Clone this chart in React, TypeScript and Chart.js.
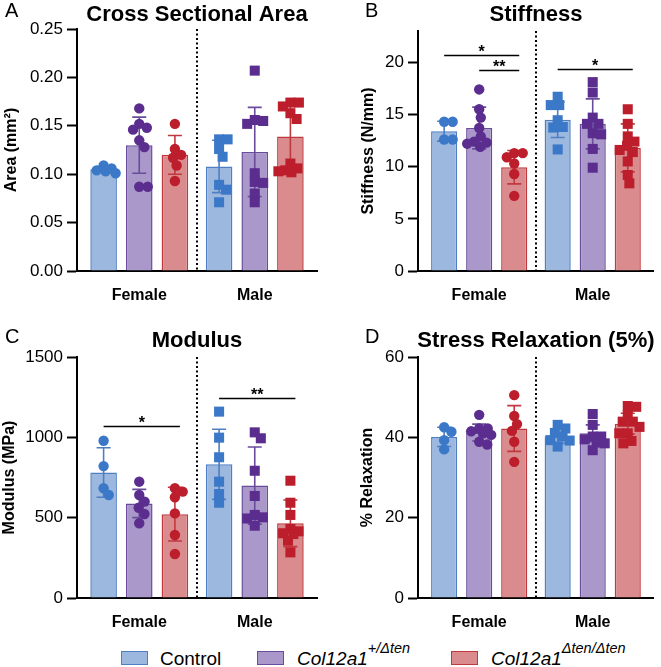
import React, { useEffect, useRef } from 'react';
import { Chart, registerables } from 'chart.js';

Chart.register(...registerables);

const FONT = '"Liberation Sans", Arial, Helvetica, sans-serif';

const SEXES = ['Female', 'Male'];
const GENOTYPES = ['Control', 'Col12a1+/Δten', 'Col12a1Δten/Δten'];

const FILL = ['#9db8de', '#a998c9', '#da8b8d'];
const EDGE = ['#4f7ec3', '#6a4c9c', '#c0393e'];
const DOT = ['#3b78c8', '#5a2d8e', '#bd1e2c'];

// ---------- A: Cross Sectional Area (mm^2) ----------  [genotype][sex]
const areaMean = [[0.105, 0.108], [0.130, 0.123], [0.120, 0.139]];
const areaSD = [[0.003, 0.027], [0.029, 0.046], [0.020, 0.034]];
const areaCtrlF = [0.101, 0.109, 0.103, 0.104, 0.106];
const areaCtrlM = [0.136, 0.136, 0.126, 0.118, 0.089, 0.084, 0.071];
const areaHetF = [0.168, 0.152, 0.148, 0.146, 0.135, 0.128, 0.087, 0.087];
const areaHetM = [0.207, 0.152, 0.155, 0.156, 0.101, 0.092, 0.091, 0.080, 0.071];
const areaKoF = [0.152, 0.126, 0.120, 0.117, 0.109, 0.093];
const areaKoM = [0.174, 0.174, 0.170, 0.163, 0.157, 0.111, 0.103, 0.104, 0.102, 0.106];

// ---------- B: Stiffness (N/mm) ----------
const stiffMean = [[13.4, 14.5], [13.7, 14.1], [9.95, 11.8]];
const stiffSD = [[0.95, 1.7], [2.0, 2.4], [1.6, 2.3]];
const stiffCtrlF = [14.3, 14.3, 12.6, 12.6];
const stiffCtrlM = [16.7, 15.9, 15.9, 14.45, 13.75, 13.8, 11.65];
const stiffHetF = [17.4, 15.5, 14.7, 13.7, 12.9, 12.4, 12.3, 12.2, 11.9];
const stiffHetM = [18.1, 17.1, 14.7, 14.1, 14.1, 13.2, 13.1, 11.7, 9.9];
const stiffKoF = [11.3, 11.3, 10.9, 10.3, 9.3, 7.2];
const stiffKoM = [15.5, 14.1, 12.9, 12.4, 12.0, 11.6, 11.4, 10.5, 9.2, 8.4];

// ---------- C: Modulus (MPa) ----------
const modMean = [[781, 832], [588, 700], [522, 465]];
const modSD = [[154, 218], [88, 240], [167, 145]];
const modCtrlF = [979, 821, 683, 641];
const modCtrlM = [1160, 998, 876, 724, 647, 593];
const modHetF = [724, 641, 600, 562, 523, 465];
const modHetM = [1031, 994, 792, 635, 517, 502, 495, 450];
const modKoF = [662, 683, 627, 527, 392, 274];
const modKoM = [730, 593, 517, 430, 415, 403, 398, 357, 284];

// ---------- D: Stress Relaxation (%) ----------
const relaxMean = [[40.1, 40.3], [41.2, 41.0], [42.2, 43.4]];
const relaxSD = [[2.4, 1.8], [2.1, 2.1], [5.7, 2.6]];
const relaxCtrlF = [41.4, 42.5, 39.3, 37.0];
const relaxCtrlM = [43.1, 42.2, 41.1, 40.2, 39.3, 39.2, 37.7];
const relaxHetF = [45.6, 42.2, 42.2, 41.5, 41.0, 40.6, 38.9, 38.2];
const relaxHetM = [45.8, 43.1, 40.2, 40.2, 38.7, 38.5, 36.8, 39.5];
const relaxKoF = [50.5, 45.3, 43.3, 41.6, 38.9, 33.9];
const relaxKoM = [47.6, 47.8, 45.6, 43.9, 43.9, 42.6, 41.0, 41.0, 38.5, 39.1];

// significance: sex, from genotype, to genotype, level (data units), label
const stiffSig = [
  { sex: 0, from: 0, to: 2, y: 20.7, label: '*' },
  { sex: 0, from: 1, to: 2, y: 19.3, label: '**' },
  { sex: 1, from: 0, to: 2, y: 19.35, label: '*' },
];
const modSig = [
  { sex: 0, from: 0, to: 2, y: 1073, label: '*' },
  { sex: 1, from: 0, to: 2, y: 1247, label: '**' },
];

const CP = 0.926;
const BP = 0.746;
const X_MIN = -0.539;
const X_MAX = 1.539;
const off = (k: number) => ((k - 1) * CP) / 3;

type Sig = { sex: number; from: number; to: number; y: number; label: string };
type Cfg = {
  letter: string; title: string; yTitle: string;
  yMax: number; yStep: number; decimals: number;
  means: number[][]; sds: number[][]; pts: number[][][]; sig: Sig[];
  left: number; top: number; width: number; height: number;
  padTop: number; padRight: number; axisW: number; yTitlePad: number;
  letterX: number; letterY: number; titleY: number;
};

function makeDeco(cfg: Cfg) {
  return {
    id: 'deco',
    afterDatasetsUpdate(chart: any) {
      const d = 8.5;
      const limit = 12;
      chart.data.datasets.forEach((ds: any, di: number) => {
        if (ds.type !== 'scatter') return;
        const meta = chart.getDatasetMeta(di);
        [0, 1].forEach((sex) => {
          const els = meta.data.filter((_: any, i: number) => (ds.data[i].x < 0.5 ? 0 : 1) === sex);
          if (!els.length) return;
          const cx = els[0].x;
          const order = [...els].sort((a: any, b: any) => a.y - b.y);
          const placed: { dx: number; y: number }[] = [];
          for (const el of order) {
            const cands = [0];
            for (const p of placed) {
              const dy = Math.abs(p.y - el.y);
              if (dy < d) {
                const w = Math.sqrt(d * d - dy * dy);
                cands.push(p.dx + w, p.dx - w);
              }
            }
            cands.sort((a, b) => Math.abs(a) - Math.abs(b) || b - a);
            let best: number | null = null;
            for (const c of cands) {
              if (Math.abs(c) > limit + 0.01) continue;
              if (placed.every((p) => (p.dx - c) ** 2 + (p.y - el.y) ** 2 >= d * d - 0.01)) {
                best = c;
                break;
              }
            }
            if (best === null) {
              let bestScore = -1;
              for (let c = -limit; c <= limit; c += 1) {
                const m = Math.min(...placed.map((p) => (p.dx - c) ** 2 + (p.y - el.y) ** 2));
                if (m > bestScore) { bestScore = m; best = c; }
              }
            }
            placed.push({ dx: best as number, y: el.y });
            el.x = cx + (best as number);
          }
        });
      });
    },
    afterDatasetDraw(chart: any, args: any) {
      const ds = chart.data.datasets[args.index];
      if (ds.type !== 'bar') return;
      const k = ds.gIndex;
      const { ctx } = chart;
      const y = chart.scales.y;
      ctx.save();
      ctx.strokeStyle = EDGE[k];
      ctx.lineWidth = 1.6;
      args.meta.data.forEach((el: any, i: number) => {
        const m = cfg.means[k][i];
        const s = cfg.sds[k][i];
        const yt = y.getPixelForValue(m + s);
        const yb = y.getPixelForValue(m - s);
        const cap = 7;
        ctx.beginPath();
        ctx.moveTo(el.x, yt); ctx.lineTo(el.x, yb);
        ctx.moveTo(el.x - cap, yt); ctx.lineTo(el.x + cap, yt);
        ctx.moveTo(el.x - cap, yb); ctx.lineTo(el.x + cap, yb);
        ctx.stroke();
      });
      ctx.restore();
    },
    afterDraw(chart: any) {
      const { ctx, chartArea: ca } = chart;
      const x = chart.scales.x;
      const y = chart.scales.y;
      ctx.save();
      // dotted divider
      ctx.strokeStyle = '#000';
      ctx.lineWidth = 2;
      ctx.setLineDash([2, 2.5]);
      const xd = Math.round(x.getPixelForValue(0.5));
      ctx.beginPath();
      ctx.moveTo(xd, ca.top);
      ctx.lineTo(xd, ca.bottom);
      ctx.stroke();
      ctx.setLineDash([]);
      // significance
      ctx.fillStyle = '#000';
      ctx.textAlign = 'center';
      ctx.textBaseline = 'alphabetic';
      for (const s of cfg.sig) {
        const x1 = x.getPixelForValue(s.sex + off(s.from));
        const x2 = x.getPixelForValue(s.sex + off(s.to)) + 5;
        const yy = Math.round(y.getPixelForValue(s.y)) + 0.5;
        ctx.lineWidth = 1.5;
        ctx.beginPath();
        ctx.moveTo(x1, yy);
        ctx.lineTo(x2, yy);
        ctx.stroke();
        ctx.font = `bold 16px ${FONT}`;
        ctx.fillText(s.label, (x1 + x2) / 2, yy + 1);
      }
      // title & letter
      ctx.font = `bold 22px ${FONT}`;
      ctx.fillText(cfg.title, (ca.left + ca.right) / 2, cfg.titleY);
      ctx.font = `20px ${FONT}`;
      ctx.textAlign = 'left';
      ctx.fillText(cfg.letter, cfg.letterX, cfg.letterY);
      ctx.restore();
    },
  };
}

function Panel({ cfg }: { cfg: Cfg }) {
  const ref = useRef<HTMLCanvasElement>(null);
  useEffect(() => {
    if (!ref.current) return;
    const bars = [0, 1, 2].map((k) => ({
      type: 'bar',
      label: GENOTYPES[k],
      gIndex: k,
      data: cfg.means[k].map((m, s) => ({ x: s, y: m })),
      backgroundColor: FILL[k],
      borderColor: EDGE[k],
      borderWidth: 1.5,
      categoryPercentage: CP,
      barPercentage: BP,
      order: 2,
    }));
    const dots = [0, 1, 2].map((k) => ({
      type: 'scatter',
      label: GENOTYPES[k] + ' points',
      data: [0, 1].flatMap((s) => cfg.pts[k][s].map((v) => ({ x: s + off(k), y: v }))),
      backgroundColor: DOT[k],
      borderColor: DOT[k],
      borderWidth: 0,
      pointStyle: (c: any) => (c.raw && c.raw.x < 0.5 ? 'circle' : 'rect'),
      pointRadius: (c: any) => (c.raw && c.raw.x < 0.5 ? 5.2 : 7.1),
      pointHoverRadius: 0,
      order: 1,
    }));
    const chart = new Chart(ref.current, {
      type: 'bar',
      data: { datasets: [...bars, ...dots] as any },
      options: {
        responsive: false,
        animation: false,
        events: [],
        layout: { padding: { top: cfg.padTop, right: cfg.padRight, left: 0, bottom: 0 } },
        plugins: { legend: { display: false }, tooltip: { enabled: false }, title: { display: false } },
        scales: {
          x: {
            type: 'linear',
            min: X_MIN,
            max: X_MAX,
            offset: false,
            afterBuildTicks: (s: any) => { s.ticks = [{ value: 0 }, { value: 1 }]; },
            ticks: {
              callback: (v: any) => SEXES[v] ?? '',
              padding: 7,
              color: '#000',
              autoSkip: false,
              maxRotation: 0,
              font: { family: FONT, size: 16, weight: 'bold' },
            },
            grid: { display: false },
            border: { display: true, color: '#000', width: 2 },
            afterFit: (s: any) => { s.height = 29; },
            z: 1,
          },
          y: {
            min: 0,
            max: cfg.yMax,
            ticks: {
              stepSize: cfg.yStep,
              includeBounds: false,
              padding: 4,
              color: '#000',
              font: { family: FONT, size: 17 },
              callback: (v: any) => Number(v).toFixed(cfg.decimals),
            },
            grid: {
              display: true,
              drawOnChartArea: false,
              drawTicks: true,
              tickLength: 10,
              tickWidth: 2,
              tickColor: '#000',
              color: '#000',
            },
            border: { display: true, color: '#000', width: 2 },
            title: {
              display: true,
              text: cfg.yTitle,
              color: '#000',
              font: { family: FONT, size: 16, weight: 'bold' },
              padding: { top: cfg.yTitlePad, bottom: 0 },
            },
            afterFit: (s: any) => { s.width = cfg.axisW; },
            z: 1,
          },
        },
      } as any,
      plugins: [makeDeco(cfg) as any],
    });
    return () => chart.destroy();
  }, [cfg]);
  return (
    <canvas
      ref={ref}
      width={cfg.width}
      height={cfg.height}
      style={{ position: 'absolute', left: cfg.left, top: cfg.top, width: cfg.width, height: cfg.height }}
    />
  );
}

const panels: Cfg[] = [
  {
    letter: 'A', title: 'Cross Sectional Area', yTitle: 'Area (mm²)',
    yMax: 0.25, yStep: 0.05, decimals: 2,
    means: areaMean, sds: areaSD,
    pts: [[areaCtrlF, areaCtrlM], [areaHetF, areaHetM], [areaKoF, areaKoM]], sig: [],
    left: 0, top: 0, width: 330, height: 300, padTop: 29, padRight: 13, axisW: 77, yTitlePad: 1.5,
    letterX: 5, letterY: 17, titleY: 21,
  },
  {
    letter: 'B', title: 'Stiffness', yTitle: 'Stiffness (N/mm)',
    yMax: 23, yStep: 5, decimals: 0,
    means: stiffMean, sds: stiffSD,
    pts: [[stiffCtrlF, stiffCtrlM], [stiffHetF, stiffHetM], [stiffKoF, stiffKoM]], sig: stiffSig,
    left: 330, top: 0, width: 331, height: 300, padTop: 31, padRight: 2, axisW: 88, yTitlePad: 28.5,
    letterX: 35, letterY: 17, titleY: 21,
  },
  {
    letter: 'C', title: 'Modulus', yTitle: 'Modulus (MPa)',
    yMax: 1500, yStep: 500, decimals: 0,
    means: modMean, sds: modSD,
    pts: [[modCtrlF, modCtrlM], [modHetF, modHetM], [modKoF, modKoM]], sig: modSig,
    left: 0, top: 300, width: 330, height: 327, padTop: 57, padRight: 13, axisW: 77, yTitlePad: 0,
    letterX: 5, letterY: 43, titleY: 47,
  },
  {
    letter: 'D', title: 'Stress Relaxation (5%)', yTitle: '% Relaxation',
    yMax: 60, yStep: 20, decimals: 0,
    means: relaxMean, sds: relaxSD,
    pts: [[relaxCtrlF, relaxCtrlM], [relaxHetF, relaxHetM], [relaxKoF, relaxKoM]], sig: [],
    left: 330, top: 300, width: 331, height: 327, padTop: 57, padRight: 2, axisW: 88, yTitlePad: 27.5,
    letterX: 35, letterY: 43, titleY: 47,
  },
];

const LEGEND_BOX_X = [121, 257, 451];
const LEGEND_TEXT_X = [160, 297, 491];

function LegendLabel({ k }: { k: number }) {
  if (k === 0) return <span>Control</span>;
  const sup = k === 1 ? '+/Δten' : 'Δten/Δten';
  return (
    <span style={{ fontStyle: 'italic' }}>
      Col12a1
      <span style={{ fontSize: 14.5, position: 'relative', top: -12 }}>{sup}</span>
    </span>
  );
}

export default function App() {
  return (
    <div style={{ position: 'absolute', left: 0, top: 0, width: 661, height: 667, background: '#fff', overflow: 'hidden' }}>
      {panels.map((p) => (
        <Panel key={p.letter} cfg={p} />
      ))}
      {[0, 1, 2].map((k) => (
        <React.Fragment key={k}>
          <div
            style={{
              position: 'absolute', left: LEGEND_BOX_X[k], top: 651, width: 27, height: 14,
              background: FILL[k], border: `1.5px solid ${EDGE[k]}`, boxSizing: 'border-box',
            }}
          />
          <div
            style={{
              position: 'absolute', left: LEGEND_TEXT_X[k], top: 649, fontFamily: FONT, fontSize: 19,
              lineHeight: '19px', whiteSpace: 'nowrap', color: '#000',
            }}
          >
            <LegendLabel k={k} />
          </div>
        </React.Fragment>
      ))}
    </div>
  );
}
